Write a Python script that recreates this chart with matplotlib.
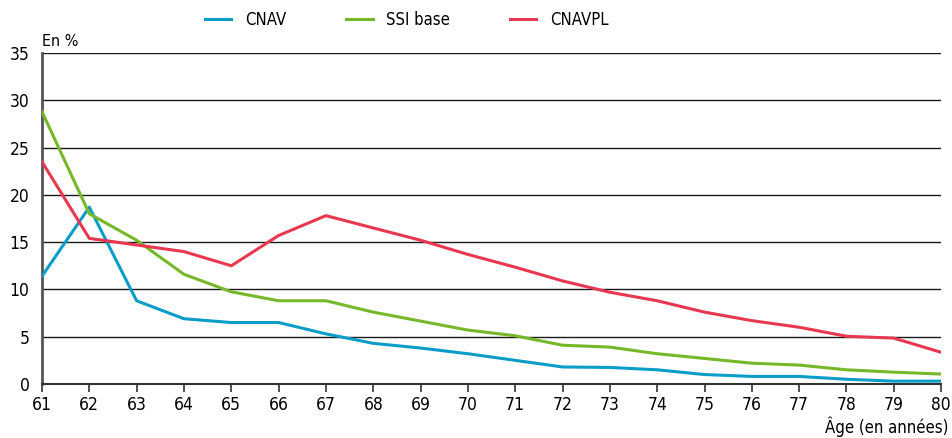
import matplotlib
matplotlib.use("Agg")
import matplotlib.pyplot as plt

plt.rcParams['font.family'] = ['DejaVu Sans']
plt.rcParams['font.stretch'] = 'condensed'

ages = list(range(61, 81))
cnav = [11.4, 18.7, 8.8, 6.9, 6.5, 6.5, 5.3, 4.3, 3.8, 3.2,
        2.5, 1.8, 1.75, 1.5, 1.0, 0.8, 0.8, 0.5, 0.3, 0.3]
ssi = [28.8, 18.0, 15.2, 11.6, 9.75, 8.8, 8.8, 7.6, 6.65, 5.7,
       5.1, 4.1, 3.9, 3.2, 2.7, 2.2, 2.0, 1.5, 1.25, 1.05]
cnavpl = [23.5, 15.4, 14.7, 14.0, 12.5, 15.7, 17.8, 16.5, 15.2, 13.7,
          12.35, 10.9, 9.7, 8.8, 7.6, 6.7, 6.0, 5.05, 4.85, 3.35]
yticks = [0, 5, 10, 15, 20, 25, 30, 35]

fig = plt.figure(figsize=(9.52, 4.38), dpi=100)
ax = fig.add_axes([0.0441, 0.1233, 0.9445, 0.7557])

# horizontal grid lines
for y in yticks[1:]:
    ax.axhline(y, color='#1a1a1a', lw=1.0, zorder=1)

ax.plot(ages, cnav, color='#0a9dc7', lw=2.2, label='CNAV', zorder=3)
ax.plot(ages, ssi, color='#76b82a', lw=2.2, label='SSI base', zorder=3)
ax.plot(ages, cnavpl, color='#e8384f', lw=2.2, label='CNAVPL', zorder=3)

ax.set_xlim(61, 80)
ax.set_ylim(0, 35)
ax.set_xticks(ages)
ax.set_yticks(yticks)
ax.tick_params(axis='x', direction='out', length=6, width=1.2, color='#333333',
               labelsize=12.5, pad=3)
ax.tick_params(axis='y', length=0, labelsize=12.5, pad=9)
for s in ['top', 'right']:
    ax.spines[s].set_visible(False)
ax.spines['left'].set_color('#555555')
ax.spines['left'].set_linewidth(2)
ax.spines['bottom'].set_color('#333333')
ax.spines['bottom'].set_linewidth(1.5)

fig.text(0.0441, 0.905, 'En %', fontsize=11.5, ha='left', va='center')
fig.text(0.996, 0.025, 'Âge (en années)', fontsize=12, ha='right', va='center')

fig.legend(loc='center left', bbox_to_anchor=(0.215, 0.954), ncol=3, frameon=False,
           fontsize=12, handlelength=1.6, handletextpad=0.8, columnspacing=3.6,
           borderpad=0, borderaxespad=0)

fig.savefig('out.png', dpi=100)
